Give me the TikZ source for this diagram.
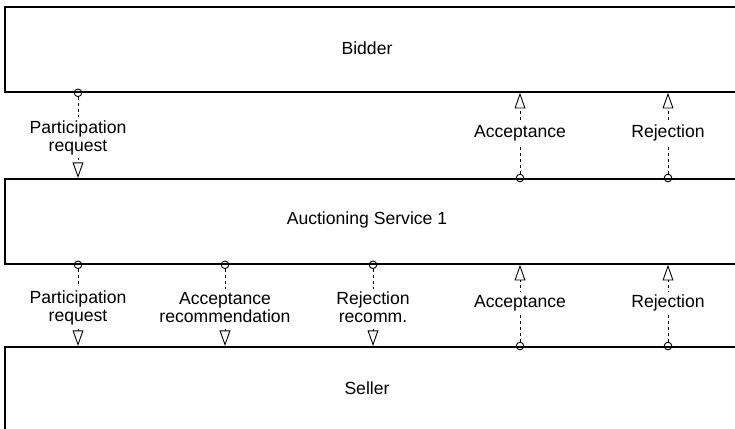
\documentclass[tikz,border=0pt]{standalone}
\usepackage{fontspec}
\setmainfont{Liberation Sans}
\usetikzlibrary{arrows.meta,positioning}

\begin{document}
\begin{tikzpicture}[x=0.5pt,y=-0.5pt,font=\fontsize{8.8}{9}\selectfont]
  \tikzset{box/.style={draw, line width=0.9pt, minimum width=375pt, minimum height=42.5pt, anchor=north west, inner sep=0pt},
    port/.style={circle, draw, line width=0.45pt, minimum size=3.8pt, inner sep=0pt},
    msg/.style={line width=0.45pt, dash pattern=on 1.5pt off 1.5pt, -{Triangle[open, length=7.8pt, width=5.4pt, line width=0.45pt]}},
    msglbl/.style={fill=white, align=center, inner sep=1.5pt}};
  \useasboundingbox (0,0) rectangle (735,429);
  \clip (0,0) rectangle (735,429);
  % the three parties
  \node[box] (bidder) at (4,6) {};
  \node[box] (service) at (4,178) {};
  \node[box] (seller) at (4,346) {};
  \node (bidderlbl) at (367,48) {Bidder};
  \node (servicelbl) at (367,220) {Auctioning Service 1};
  \node (sellerlbl) at (367,388) {Seller};
  % bidder -> service
  \node[port] (b1) at (bidder.south -| 78,0) {};
  \draw[msg] (b1.south) -- (b1.south |- service.north);
  \path (b1) -- (b1 |- service.north) node[midway, msglbl] (lb1) {Participation\\request};
  % service -> bidder
  \node[port] (s1) at (service.north -| 520,0) {};
  \node[port] (s2) at (service.north -| 668,0) {};
  \draw[msg] (s1.north) -- (s1.north |- bidder.south);
  \draw[msg] (s2.north) -- (s2.north |- bidder.south);
  \path (s1) -- (s1 |- bidder.south) node[midway, msglbl] (ls1) {Acceptance};
  \path (s2) -- (s2 |- bidder.south) node[midway, msglbl] (ls2) {Rejection};
  % service -> seller
  \node[port] (s3) at (service.south -| 78,0) {};
  \node[port] (s4) at (service.south -| 225,0) {};
  \node[port] (s5) at (service.south -| 373,0) {};
  \draw[msg] (s3.south) -- (s3.south |- seller.north);
  \draw[msg] (s4.south) -- (s4.south |- seller.north);
  \draw[msg] (s5.south) -- (s5.south |- seller.north);
  \path (s3) -- (s3 |- seller.north) node[midway, msglbl] (ls3) {Participation\\request};
  \path (s4) -- (s4 |- seller.north) node[midway, msglbl] (ls4) {Acceptance\\recommendation};
  \path (s5) -- (s5 |- seller.north) node[midway, msglbl] (ls5) {Rejection\\recomm.};
  % seller -> service
  \node[port] (e1) at (seller.north -| 520,0) {};
  \node[port] (e2) at (seller.north -| 668,0) {};
  \draw[msg] (e1.north) -- (e1.north |- service.south);
  \draw[msg] (e2.north) -- (e2.north |- service.south);
  \path (e1) -- (e1 |- service.south) node[midway, msglbl] (le1) {Acceptance};
  \path (e2) -- (e2 |- service.south) node[midway, msglbl] (le2) {Rejection};
\end{tikzpicture}
\end{document}
